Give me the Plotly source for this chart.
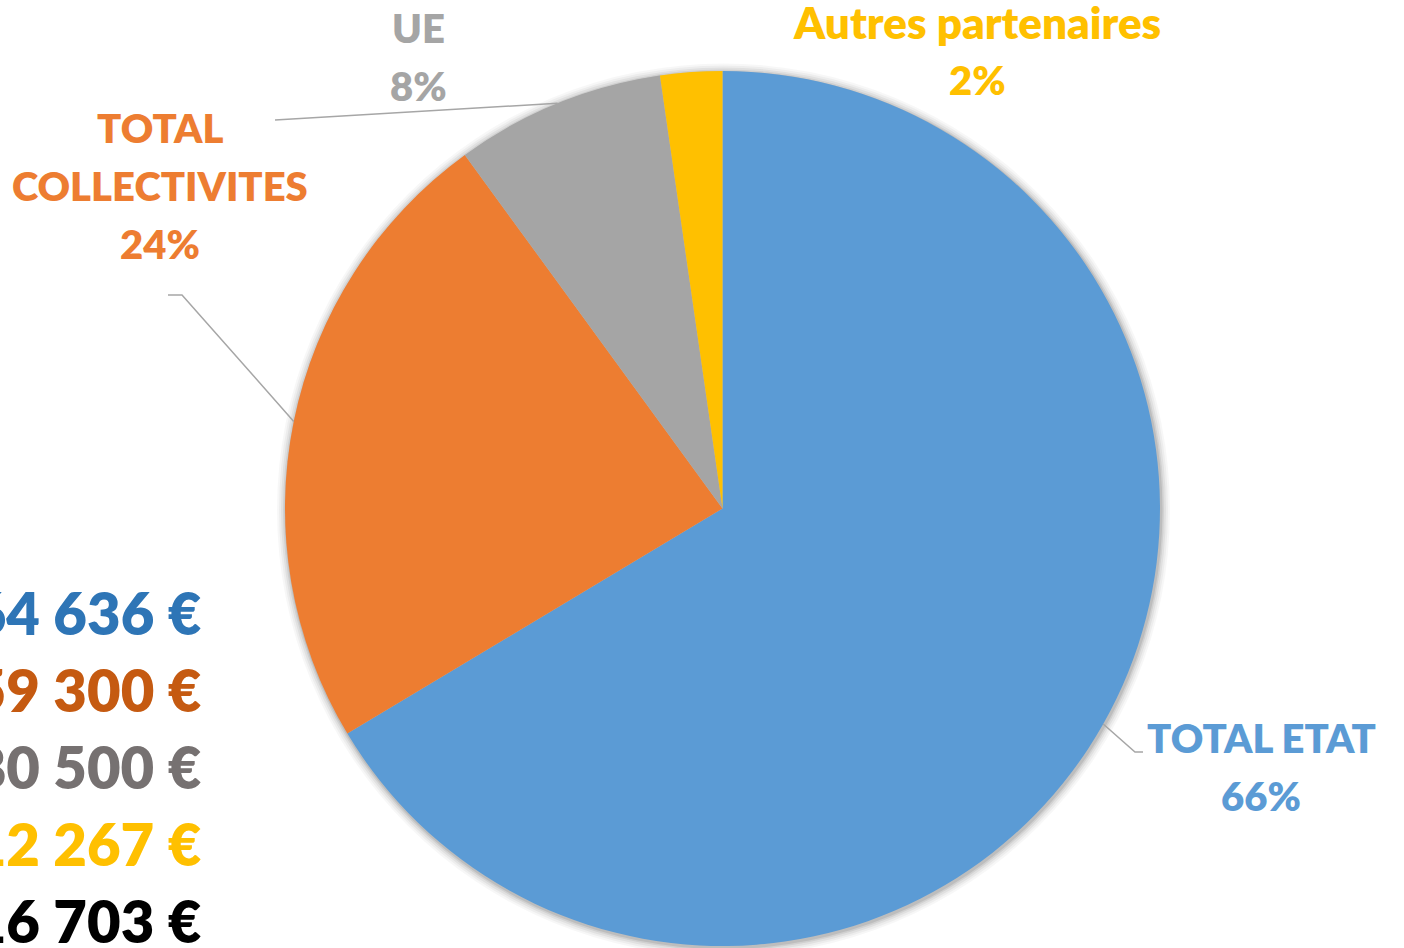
import math
import plotly.graph_objects as go

# ---- data ----
categories = ["TOTAL ETAT", "TOTAL<br>COLLECTIVITES", "UE", "Autres partenaires"]
values = [3264636, 1159300, 380500, 112267]
slice_colors = ["#5B9BD5", "#ED7D31", "#A5A5A5", "#FFC000"]
amount_colors = ["#2E75B6", "#C55A11", "#767171", "#FFC000"]
total_color = "#000000"

W, H = 1404, 948
CX, CY, R = 722.5, 508.5, 437.5


def px(x):
    return x / W


def py(y):
    return 1 - y / H


FONT = "Lato"
WEIGHT = 800

fig = go.Figure()

fig.add_trace(go.Pie(
    labels=[c.replace("<br>", " ") for c in categories],
    values=values,
    marker=dict(colors=slice_colors, line=dict(width=0)),
    sort=False,
    direction="clockwise",
    rotation=0,
    textinfo="none",
    hoverinfo="label+percent",
    showlegend=False,
    domain=dict(x=[px(CX - R), px(CX + R)], y=[py(CY + R), py(CY - R)]),
))

shapes = []
# soft shadow around the pie
for dr, op in [(9, 0.03), (7, 0.04), (5, 0.05), (3, 0.07), (1.5, 0.09)]:
    rr = R + dr
    shapes.append(dict(type="circle", xref="paper", yref="paper", layer="below",
                       x0=px(CX + 1 - rr), x1=px(CX + 1 + rr),
                       y0=py(CY + 1.5 + rr), y1=py(CY + 1.5 - rr),
                       fillcolor=f"rgba(0,0,0,{op})", line=dict(width=0)))

total = sum(values)
pcts = [round(100 * v / total) for v in values]

# label layout: (center x, first line y, line step) and leader line elbow points
label_pos = [(1261, 738, 58), (160, 128, 58), (418, 28, 58), (977, 22, 58)]
leaders = [[(1135, 752), (1143, 752)], [(182, 295), (168, 295)], [(275, 120)], None]

annotations = []
cum = 0
for i, (cat, v) in enumerate(zip(categories, values)):
    mid = 2 * math.pi * (cum + v / 2) / total
    cum += v
    sx = CX + R * math.sin(mid)
    sy = CY - R * math.cos(mid)
    if leaders[i]:
        pts = [(sx, sy)] + leaders[i]
        path = "M " + " L ".join(f"{px(a):.5f},{py(b):.5f}" for a, b in pts)
        shapes.append(dict(type="path", xref="paper", yref="paper", path=path,
                           line=dict(color="#A6A6A6", width=1.5)))
    lx, ly, step = label_pos[i]
    lines = cat.split("<br>") + [f"{pcts[i]}%"]
    for k, t in enumerate(lines):
        size = 40 if t.isupper() or t.endswith("%") else 44
        annotations.append(dict(x=px(lx), y=py(ly + k * step), xref="paper", yref="paper",
                                text=t, showarrow=False, xanchor="center", yanchor="middle",
                                font=dict(family=FONT, size=size, color=slice_colors[i], weight=WEIGHT)))


def fmt(n):
    return f"{n:,}".replace(",", " ") + " €"


amounts = values + [total]
acolors = amount_colors + [total_color]
for k, (a, c) in enumerate(zip(amounts, acolors)):
    annotations.append(dict(x=px(203), y=py(612 + k * 77), xref="paper", yref="paper",
                            text=fmt(a), showarrow=False, xanchor="right", yanchor="middle",
                            font=dict(family=FONT, size=58, color=c, weight=WEIGHT)))

fig.update_layout(
    width=W, height=H,
    margin=dict(l=0, r=0, t=0, b=0),
    paper_bgcolor="white", plot_bgcolor="white",
    shapes=shapes, annotations=annotations,
)

fig.write_html("out.html", config={"displayModeBar": False},
               post_script="document.body.style.margin='0';")
